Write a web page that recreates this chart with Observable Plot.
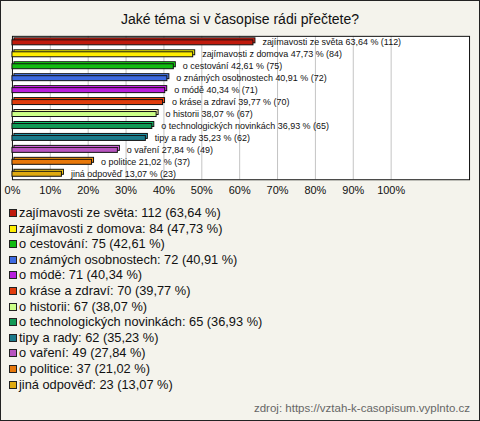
<!DOCTYPE html>
<html>
<head>
<meta charset="utf-8">
<script src="https://cdn.jsdelivr.net/npm/d3@7"></script>
<script src="https://cdn.jsdelivr.net/npm/@observablehq/plot@0.6"></script>
<style>
  html, body { margin: 0; padding: 0; background: #f4f3ec; }
  #wrap { position: relative; width: 480px; height: 421px; box-sizing: border-box; border: 1px solid #222; background: #f4f3ec; font-family: "Liberation Sans", Arial, sans-serif; overflow: hidden; }
  #title { position: absolute; left: 0; width: 478px; top: 10px; text-align: center; font-size: 14px; color: #111; }
  #chart { position: absolute; left: -1px; top: -1px; }
  #legend { position: absolute; left: 8px; top: 204px; font-size: 12.8px; color: #111; }
  .row { height: 15.6px; line-height: 15.6px; white-space: nowrap; }
  .sw { display: inline-block; width: 8px; height: 8px; box-sizing: border-box; border: 1px solid #222; margin-right: 2px; vertical-align: -0px; }
  #footer { position: absolute; right: 9px; top: 401px; font-size: 11.5px; color: #666; }
</style>
</head>
<body>
<div id="wrap">
  <div id="title">Jaké téma si v časopise rádi přečtete?</div>
  <div id="chart"></div>
  <div id="legend"></div>
  <div id="footer">zdroj: https://vztah-k-casopisum.vyplnto.cz</div>
</div>
<script>
const categories = ["zajímavosti ze světa", "zajímavosti z domova", "o cestování", "o známých osobnostech", "o módě", "o kráse a zdraví", "o historii", "o technologických novinkách", "tipy a rady", "o vaření", "o politice", "jiná odpověď"];
const counts = [112, 84, 75, 72, 71, 70, 67, 65, 62, 49, 37, 23];
const percents = [63.64, 47.73, 42.61, 40.91, 40.34, 39.77, 38.07, 36.93, 35.23, 27.84, 21.02, 13.07];
const colors = ["#c01a0c", "#ffee00", "#11bb11", "#3d6ae0", "#b81edc", "#e03c0c", "#ccff88", "#119955", "#1a7a8a", "#b855c0", "#e8780a", "#e0aa10"];
const xTicks = [0, 10, 20, 30, 40, 50, 60, 70, 80, 90, 100];

const fmt = v => v.toFixed(2).replace(".", ",");
const rows = categories.map((name, i) => ({
  name, count: counts[i], pct: percents[i], color: colors[i],
  top: d3.color(colors[i]).brighter(0.6).formatHex(),
  label: `${name} ${fmt(percents[i])} % (${counts[i]})`,
  legend: `${name}: ${counts[i]} (${fmt(percents[i])} %)`
}));

const chart = Plot.plot({
  width: 481, height: 206,
  marginLeft: 12, marginRight: 10, marginTop: 36, marginBottom: 26,
  x: { domain: [0, 120.7], axis: null, label: null },
  y: { domain: categories, axis: null, padding: 0, label: null },
  color: { type: "identity" },
  style: { background: "transparent", fontFamily: "'Liberation Sans', Arial, sans-serif", color: "#111" },
  marks: [
    Plot.frame({ fill: "white" }),
    Plot.ruleX(xTicks.slice(1), { stroke: "#c4c4c4" }),
    Plot.frame({ stroke: "#111" }),
    Plot.barX(rows, { x: "pct", y: "name", fill: "top", stroke: "#111", strokeWidth: 1, insetTop: 4, insetBottom: 3, dx: 2, dy: -2 }),
    Plot.barX(rows, { x: "pct", y: "name", fill: "color", stroke: "#111", strokeWidth: 1, insetTop: 4, insetBottom: 3 }),
    Plot.text(rows, { x: "pct", y: "name", text: "label", textAnchor: "start", dx: 9, fontSize: 9, fill: "#111" }),
    Plot.axisX({ ticks: xTicks, tickSize: 0, tickPadding: 7, tickFormat: d => d + "%", fontSize: 11, label: null })
  ]
});
document.getElementById("chart").appendChild(chart);

const legend = document.getElementById("legend");
rows.forEach(r => {
  const div = document.createElement("div");
  div.className = "row";
  const sw = document.createElement("span");
  sw.className = "sw";
  sw.style.background = r.color;
  div.appendChild(sw);
  div.appendChild(document.createTextNode(r.legend));
  legend.appendChild(div);
});
</script>
</body>
</html>
